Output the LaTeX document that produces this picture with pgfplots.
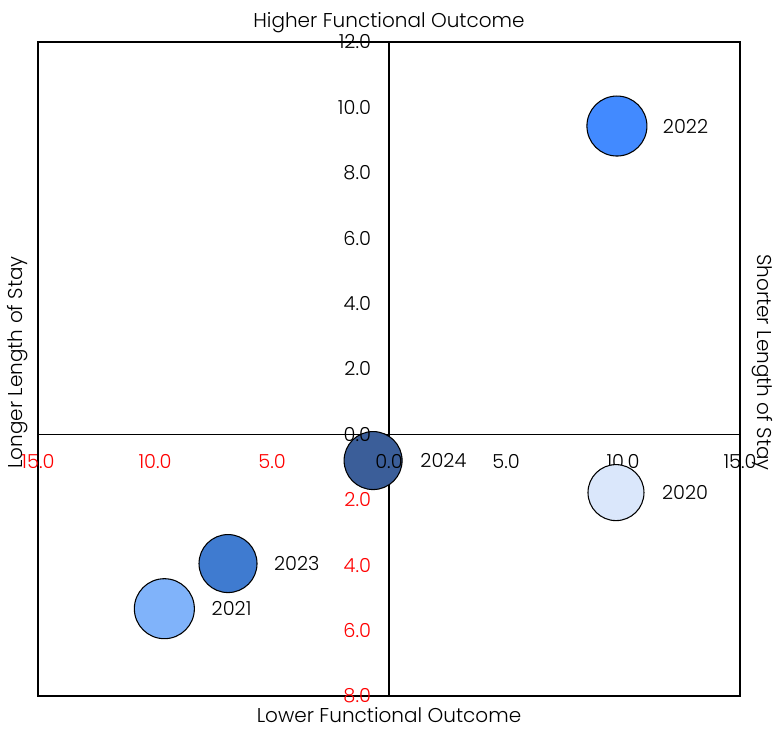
\documentclass[border=0pt]{standalone}
\usepackage{fontspec}
\setmainfont{Poppins}[UprightFont=* Light]
\usepackage{pgfplots}
\pgfplotsset{compat=1.18}
\usetikzlibrary{calc}
\definecolor{c2020}{HTML}{DAE7FB}
\definecolor{c2021}{HTML}{80B3FA}
\definecolor{c2022}{HTML}{428AFF}
\definecolor{c2023}{HTML}{3F7BD0}
\definecolor{c2024}{HTML}{3B5E99}
\newcommand{\tfont}{\fontsize{14.5}{16}\selectfont}
\newcommand{\lfont}{\fontsize{15}{17}\selectfont}
\begin{document}
\begin{tikzpicture}
\begin{axis}[
  scale only axis, width=526.5pt, height=490.5pt,
  xmin=-15, xmax=15, ymin=-8, ymax=12,
  axis lines=middle, axis on top, clip=false,
  axis line style={-, black, line width=1pt},
  xtick={-15,-10,-5,0,5,10,15},
  xticklabels={\textcolor{red}{15.0},\textcolor{red}{10.0},\textcolor{red}{5.0},0.0,5.0,10.0,15.0},
  ytick={-8,-6,-4,-2,0,2,4,6,8,10,12},
  yticklabels={\textcolor{red}{8.0},\textcolor{red}{6.0},\textcolor{red}{4.0},\textcolor{red}{2.0},0.0,2.0,4.0,6.0,8.0,10.0,12.0},
  major tick length=0pt,
  tick label style={font=\tfont},
  xticklabel style={anchor=north, yshift=-11.5pt},
  yticklabel style={anchor=east, xshift=-10pt},
]
\draw[line width=1pt] (rel axis cs:0,0) rectangle (rel axis cs:1,1);
\coordinate (BL) at (rel axis cs:0,0);
\coordinate (TR) at (rel axis cs:1,1);
\coordinate (O) at (axis cs:0,0);
\addplot[only marks, mark=*, mark size=21pt, mark options={fill=c2020, draw=black, line width=0.8pt}] coordinates {(9.7,-1.78)};
\addplot[only marks, mark=*, mark size=22.5pt, mark options={fill=c2021, draw=black, line width=0.8pt}] coordinates {(-9.6,-5.33)};
\addplot[only marks, mark=*, mark size=22.5pt, mark options={fill=c2022, draw=black, line width=0.8pt}] coordinates {(9.74,9.43)};
\addplot[only marks, mark=*, mark size=21.75pt, mark options={fill=c2023, draw=black, line width=0.8pt}] coordinates {(-6.88,-3.95)};
\addplot[only marks, mark=*, mark size=21.75pt, mark options={fill=c2024, draw=black, line width=0.8pt}] coordinates {(-0.68,-0.80)};
\node[anchor=west, font=\tfont, xshift=31pt] at (axis cs:9.7,-1.78) {2020};
\node[anchor=west, font=\tfont, xshift=32pt] at (axis cs:-9.6,-5.33) {2021};
\node[anchor=west, font=\tfont, xshift=31pt] at (axis cs:9.74,9.43) {2022};
\node[anchor=west, font=\tfont, xshift=31pt] at (axis cs:-6.88,-3.95) {2023};
\node[anchor=west, font=\tfont, xshift=32pt] at (axis cs:-0.68,-0.80) {2024};
\end{axis}
\node[anchor=north, font=\tfont, yshift=-11.5pt] at (O) {0.0};
\node[anchor=east, font=\tfont, xshift=-10pt] at (O) {0.0};
\node[anchor=base, font=\lfont] at ($(BL|-TR)!0.5!(TR)+(0,10.5pt)$) {Higher Functional Outcome};
\node[anchor=base, font=\lfont] at ($(BL)!0.5!(BL-|TR)+(0,-19.5pt)$) {Lower Functional Outcome};
\node[rotate=90, font=\lfont] at ($(BL)!0.51!(BL|-TR)+(-15pt,0)$) {Longer Length of Stay};
\node[rotate=-90, font=\lfont] at ($(BL-|TR)!0.51!(TR)+(16.5pt,0)$) {Shorter Length of Stay};
\pgfresetboundingbox
\useasboundingbox ($(BL)+(-28.5pt,-24pt)$) rectangle ($(TR)+(29.25pt,31.5pt)$);
\end{tikzpicture}
\end{document}
